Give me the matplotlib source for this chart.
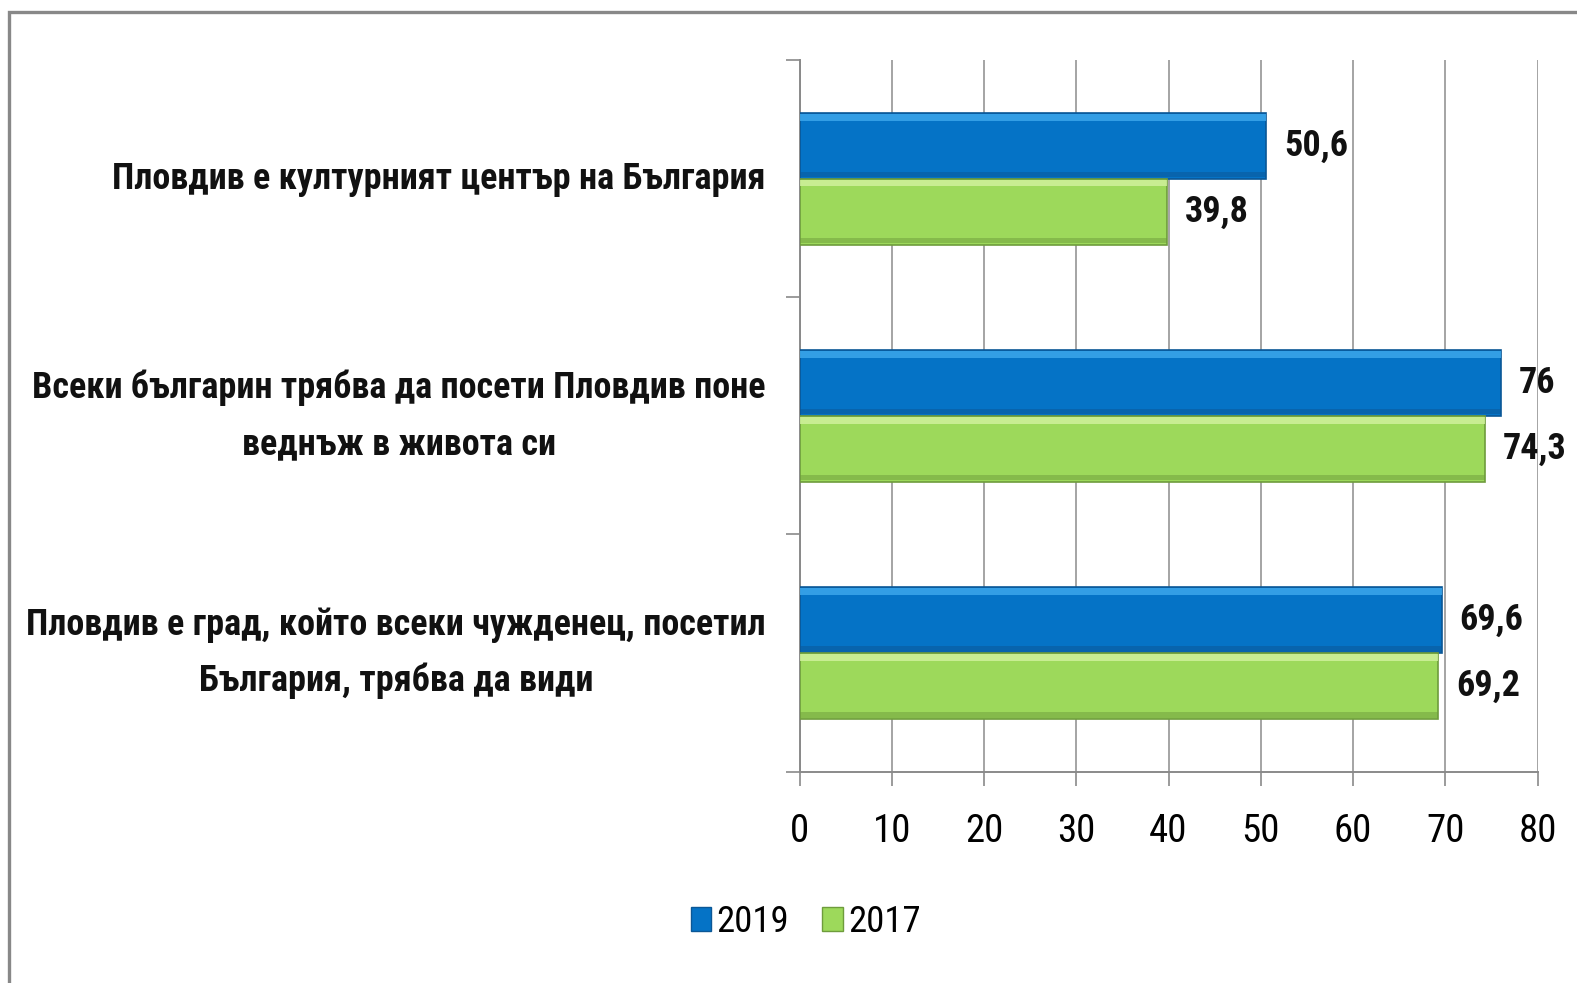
import numpy as np
import matplotlib
matplotlib.use("Agg")
import matplotlib.pyplot as plt
from matplotlib import font_manager
from matplotlib.patches import Rectangle

# данни
categories = ["Пловдив е културният център на България",
              "Всеки българин трябва да посети Пловдив поне\nведнъж в живота си",
              "Пловдив е град, който всеки чужденец, посетил\nБългария, трябва да види"]
values_2019 = [50.6, 76, 69.6]
values_2017 = [39.8, 74.3, 69.2]
series_names = ["2019", "2017"]
x_ticks = [0, 10, 20, 30, 40, 50, 60, 70, 80]

# шрифт - тесен, ако има
names = {f.name for f in font_manager.fontManager.ttflist}
fam = "Liberation Sans"
for cand in ["Liberation Sans Narrow", "Roboto Condensed", "Open Sans Condensed"]:
    if cand in names:
        fam = cand
        break
plt.rcParams['font.family'] = [fam, 'DejaVu Sans']

fig = plt.figure(figsize=(15.77, 9.83), dpi=100)
ax = fig.add_axes([0.507, 0.215, 0.468, 0.724])

y = np.arange(len(categories))
h = 0.278

# цветове: основен, светъл ръб, тъмен ръб
blue = ("#0573C6", "#3FAAEE", "#0B5796")
green = ("#9DD95B", "#D4F3A0", "#6E9C3C")

for vals, off, (c_main, c_light, c_dark) in [(values_2019, -h / 2, blue), (values_2017, h / 2, green)]:
    yy = y + off
    ax.barh(yy, vals, height=h, color=c_main, edgecolor=c_dark, linewidth=1.2, zorder=3)
    # светла ивица отгоре, тъмна отдолу (имитация на скосяване)
    ax.barh(yy - h * 0.43, vals, height=h * 0.1, color=c_light, linewidth=0, zorder=4, alpha=0.8)
    ax.barh(yy + h * 0.44, vals, height=h * 0.08, color=c_dark, linewidth=0, zorder=4, alpha=0.5)
    for v, yv in zip(vals, yy):
        ax.annotate(f"{v:g}".replace(".", ","), (v, yv), xytext=(13, 0),
                    textcoords="offset points", va="center", ha="left",
                    fontsize=26, fontweight="bold", color="#111111",
                    annotation_clip=False)

ax.set_xlim(0, 80)
ax.set_ylim(len(categories) - 0.5, -0.5)
ax.set_xticks(x_ticks)
ax.set_xticklabels([str(t) for t in x_ticks], fontsize=28)
ax.set_yticks(np.arange(len(categories) + 1) - 0.5)
ax.set_yticklabels([])
ax.tick_params(axis="x", direction="out", length=10, width=1.2, color="#8a8a8a", pad=20)
ax.tick_params(axis="y", direction="out", length=10, width=1.2, color="#8a8a8a")
ax.grid(axis="x", color="#8c8c8c", linewidth=1.1, zorder=0)
ax.set_axisbelow(True)
for s in ["top", "right"]:
    ax.spines[s].set_visible(False)
for s in ["left", "bottom"]:
    ax.spines[s].set_color("#8a8a8a")
    ax.spines[s].set_linewidth(1.4)

for i, cat in enumerate(categories):
    ax.text(-0.046, i, cat, transform=ax.get_yaxis_transform(), ha="right", va="center",
            multialignment="center", fontsize=26, fontweight="bold", linespacing=1.7,
            color="#111111")

handles = [Rectangle((0, 0), 1, 1, facecolor=blue[0], edgecolor=blue[2]),
           Rectangle((0, 0), 1, 1, facecolor=green[0], edgecolor=green[2])]
fig.legend(handles, series_names, loc="center", bbox_to_anchor=(0.511, 0.062), ncol=2,
           frameon=False, fontsize=26.5, handlelength=0.55, handleheight=0.6,
           handletextpad=0.15, columnspacing=0.9)

# рамка около графиката (вижда се само горе и вляво)
fig.patches.append(Rectangle((9 / 1577, -0.2), 1.2, 1.2 + (983 - 12) / 983 - 1,
                             transform=fig.transFigure, fill=False,
                             edgecolor="#888888", linewidth=2.4, clip_on=False))

fig.savefig("out.png", dpi=100)
